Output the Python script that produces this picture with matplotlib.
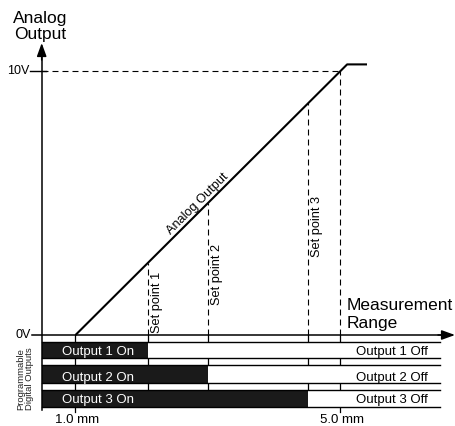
import matplotlib
matplotlib.use("Agg")
import matplotlib.pyplot as plt
from matplotlib.patches import Rectangle

# ---------------- data ----------------
analog_x_mm = [1.0, 5.0, 5.1, 5.4]
analog_v = [0.0, 10.0, 10.25, 10.25]
setpoints_mm = [2.09, 3.0, 4.51]
setpoint_labels = ["Set point 1", "Set point 2", "Set point 3"]
range_ticks_mm = [1.0, 5.0]
range_tick_labels = ["1.0 mm", "5.0 mm"]
volt_ticks = [0.0, 10.0]
volt_tick_labels = ["0V", "10V"]
output_on_labels = ["Output 1 On", "Output 2 On", "Output 3 On"]
output_off_labels = ["Output 1 Off", "Output 2 Off", "Output 3 Off"]

# ---------------- layout (pixel based helpers) ----------------
plt.rcParams["font.family"] = ["Liberation Sans", "DejaVu Sans"]
plt.rcParams["lines.scale_dashes"] = False

PX_MM = 66.25
PX_V = 26.4


def X(px):
    return 1.0 + (px - 75.5) / PX_MM


def Y(py):
    return (335.0 - py) / PX_V


fig = plt.figure(figsize=(4.55, 4.26), dpi=100)
ax = fig.add_axes([0, 0, 1, 1])
ax.set_xlim(X(0), X(455))
ax.set_ylim(Y(426), Y(0))
ax.axis("off")

AXIS_X = X(41.7)
ROW_RIGHT = X(440)
rows_px = [(341.5, 358.0), (365.0, 383.0), (389.5, 406.5)]
on_baseline_px = [355.0, 380.5, 403.3]
dash = (0, (4.3, 2.9))
lw_dash = 0.8

# dashed guides
ax.plot([AXIS_X, analog_x_mm[1]], [volt_ticks[1], volt_ticks[1]], color="black",
        lw=lw_dash, ls=dash, zorder=2)
ax.plot([analog_x_mm[1], analog_x_mm[1]], [volt_ticks[0], volt_ticks[1]], color="black",
        lw=lw_dash, ls=dash, zorder=2)
slope = (analog_v[1] - analog_v[0]) / (analog_x_mm[1] - analog_x_mm[0])
for sp in setpoints_mm:
    top = analog_v[0] + slope * (sp - analog_x_mm[0])
    ax.plot([sp, sp], [0, top], color="black", lw=lw_dash, ls=dash, zorder=2)

# solid vertical lines down through the output rows
for sp in setpoints_mm:
    ax.plot([sp, sp], [0, Y(rows_px[2][0])], color="black", lw=0.9, zorder=1)
for t in range_ticks_mm:
    ax.plot([t, t], [0, Y(412)], color="black", lw=0.9, zorder=1)

# analog output line
ax.plot(analog_x_mm, analog_v, color="black", lw=1.5, solid_capstyle="butt", zorder=4)

# output rows
for i, (top, bot) in enumerate(rows_px):
    yt, yb = Y(top), Y(bot)
    ax.add_patch(Rectangle((AXIS_X, yb), ROW_RIGHT - AXIS_X, yt - yb,
                           facecolor="white", edgecolor="none", zorder=2))
    ax.add_patch(Rectangle((AXIS_X, yb), setpoints_mm[i] - AXIS_X, yt - yb,
                           facecolor="#1a1a1a", edgecolor="none", zorder=3))
    ax.plot([AXIS_X, ROW_RIGHT], [yt, yt], color="black", lw=1.0, zorder=3)
    ax.plot([AXIS_X, ROW_RIGHT], [yb, yb], color="black", lw=1.0, zorder=3)
    ax.text(X(62), Y(on_baseline_px[i]), output_on_labels[i], color="white",
            fontsize=9.5, ha="left", va="baseline", zorder=5)
    ax.text(X(428), Y(on_baseline_px[i]), output_off_labels[i], color="black",
            fontsize=9.5, ha="right", va="baseline", zorder=5)

# axes with arrows
ax.plot([AXIS_X, AXIS_X], [Y(410), Y(50)], color="black", lw=1.1, zorder=6)
ax.annotate("", xy=(AXIS_X, Y(43)), xytext=(AXIS_X, Y(60)),
            arrowprops=dict(arrowstyle="-|>,head_length=8,head_width=2.9",
                            mutation_scale=1, lw=1.1, color="black",
                            shrinkA=0, shrinkB=0), zorder=6)
ax.plot([X(32), X(448)], [0, 0], color="black", lw=1.1, zorder=6)
ax.annotate("", xy=(X(455), 0), xytext=(X(438), 0),
            arrowprops=dict(arrowstyle="-|>,head_length=8,head_width=2.9",
                            mutation_scale=1, lw=1.1, color="black",
                            shrinkA=0, shrinkB=0), zorder=6)
# 10V tick
ax.plot([X(30), X(46)], [volt_ticks[1], volt_ticks[1]], color="black", lw=1.0, zorder=6)

# y tick labels
ax.text(X(30.5), volt_ticks[0], volt_tick_labels[0], fontsize=9, ha="right", va="center")
ax.text(X(29), volt_ticks[1], volt_tick_labels[1], fontsize=9, ha="right", va="center")

# x tick labels
for t, lab in zip(range_ticks_mm, range_tick_labels):
    ax.text(t + X(77.5) - X(75.5), Y(425.8), lab, fontsize=9.5, ha="center", va="bottom")

# set point labels
sp_label_bottom_px = [333, 305, 257]
for sp, lab, b in zip(setpoints_mm, setpoint_labels, sp_label_bottom_px):
    ax.text(sp + 3 / PX_MM, Y(b), lab, rotation=90, fontsize=9.2,
            ha="left", va="bottom", zorder=5)

# analog output label along the line
ax.text(X(197.5), Y(204), "Analog Output", rotation=44.9, rotation_mode="anchor",
        fontsize=9.2, ha="center", va="center", zorder=5)

# axis titles
ax.text(X(13), Y(23), "Analog", fontsize=12.5, ha="left", va="baseline")
ax.text(X(14), Y(39.5), "Output", fontsize=12.5, ha="left", va="baseline")
ax.text(X(347), Y(309.5), "Measurement", fontsize=12.5, ha="left", va="baseline")
ax.text(X(347), Y(328), "Range", fontsize=12.5, ha="left", va="baseline")

# left rotated label
ax.text(X(25), Y(379), "Programmable\nDigital Outputs", rotation=90, fontsize=6.8,
        ha="center", va="center", multialignment="center", linespacing=1.0,
        color="#222222")

fig.savefig("out.png", dpi=100)
